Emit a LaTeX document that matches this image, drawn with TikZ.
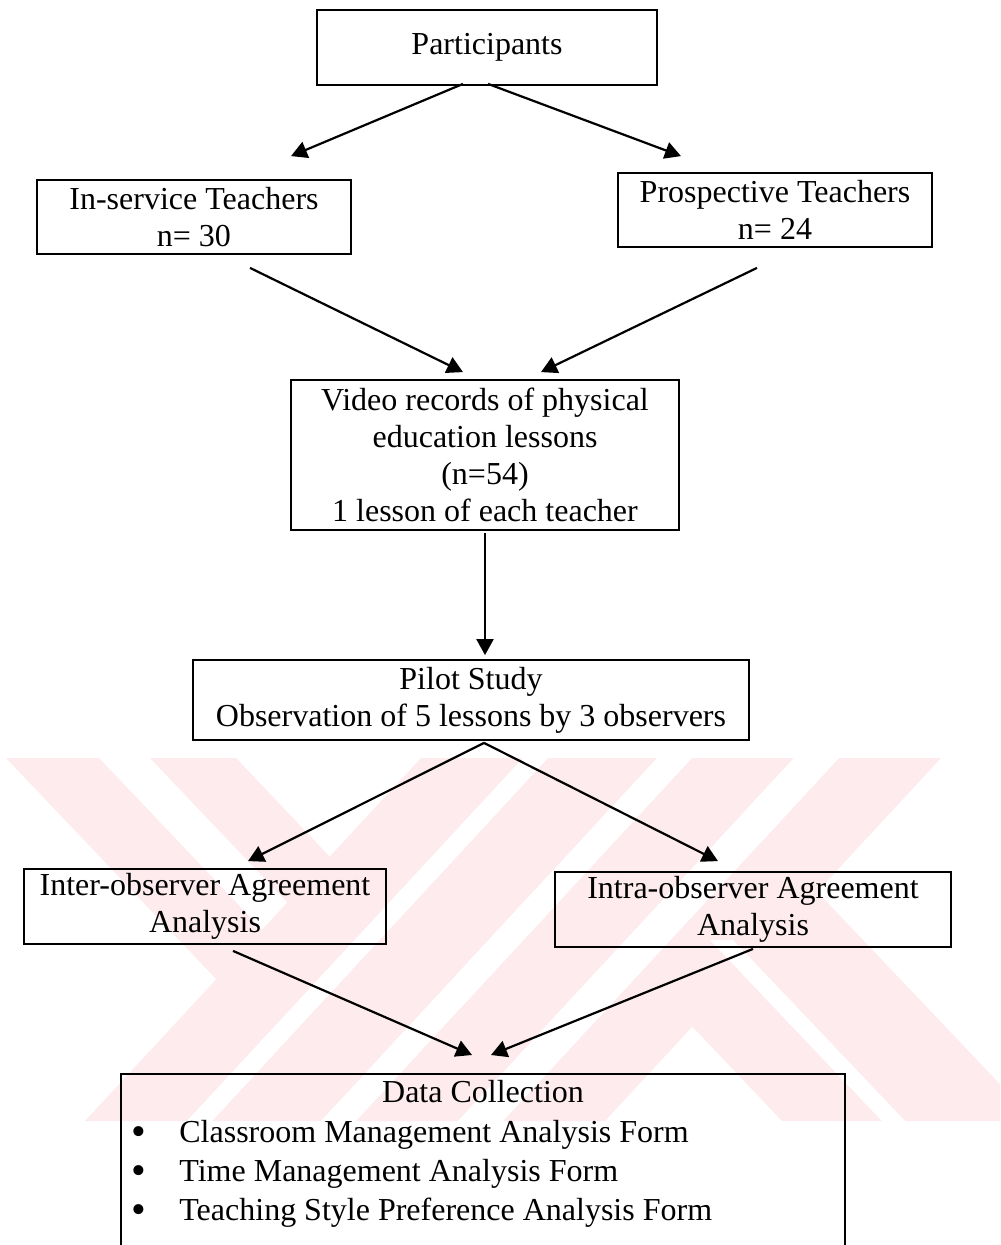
\documentclass[tikz,border=0pt]{standalone}
\usepackage{fontspec}
\setmainfont{Liberation Serif}
\usetikzlibrary{arrows.meta,calc}
\definecolor{wm}{RGB}{253,235,238}
\newcommand{\bigbul}{\makebox[24pt][l]{\raisebox{-1.6pt}{\fontsize{21}{21}\selectfont\textbullet}}}
\begin{document}
\begin{tikzpicture}[x=0.5pt,y=-0.5pt,
  box/.style={draw, line width=0.9pt, align=center, inner sep=0pt, font=\fontsize{16}{18.5}\selectfont},
  arr/.style={line width=1.1pt, -{Triangle[length=8pt,width=8.5pt]}},
  txt/.style={font=\fontsize{16}{19.5}\selectfont, inner sep=0pt}]
\useasboundingbox (0,0) rectangle (1000,1245);
% watermark
\begin{scope}
\clip (0,758) rectangle (1000,1121);
\fill[wm] (6,758) -- (99,758) -- (444,1121) -- (351,1121) -- cycle;
\fill[wm] (150,758) -- (236,758) -- (581,1121) -- (495,1121) -- cycle;
\fill[wm] (437,758) -- (537,758) -- (882,1121) -- (782,1121) -- cycle;
\fill[wm] (560,758) -- (690,758) -- (1035,1121) -- (905,1121) -- cycle;
\fill[wm] (421,758) -- (523,758) -- (187,1121) -- (85,1121) -- cycle;
\fill[wm] (548,758) -- (657,758) -- (321,1121) -- (212,1121) -- cycle;
\fill[wm] (692,758) -- (794,758) -- (458,1121) -- (356,1121) -- cycle;
\fill[wm] (839,758) -- (941,758) -- (605,1121) -- (503,1121) -- cycle;
\fill[white] (523,758) -- (548,758) -- (212,1121) -- (187,1121) -- cycle;
\fill[white] (657,758) -- (692,758) -- (356,1121) -- (321,1121) -- cycle;
\fill[white] (794,758) -- (839,758) -- (503,1121) -- (458,1121) -- cycle;
\fill[white] (710,940) -- (733,940) -- (905,1121) -- (882,1121) -- cycle;
\end{scope}
% boxes
\node[box, minimum width=170pt, minimum height=37.5pt] (part) at (487,47.5) {Participants};
\node[box, minimum width=157pt, minimum height=37pt] (ins) at (194,217) {In-service Teachers\\n= 30};
\node[box, minimum width=157pt, minimum height=37pt] (pro) at (775,210) {Prospective Teachers\\n= 24};
\node[box, minimum width=194pt, minimum height=75pt] (vid) at (485,455) {Video records of physical\\education lessons\\(n=54)\\1 lesson of each teacher};
\node[box, minimum width=278pt, minimum height=40pt] (pil) at (471,700) {Pilot Study\\Observation of 5 lessons by 3 observers};
\node[box, minimum width=181pt, minimum height=37.5pt] (inter) at (205,906.5) {Inter-observer Agreement\\Analysis};
\node[box, minimum width=198pt, minimum height=37.5pt] (intra) at (753,909.5) {Intra-observer Agreement\\Analysis};
\node[draw, line width=0.9pt, minimum width=362pt, minimum height=110pt, anchor=north, inner sep=0pt] (data) at (483,1073) {};
\node[txt] (dtitle) at (483,1092) {Data Collection};
\node[txt, anchor=base west] (b1) at (131,1142) {\bigbul Classroom Management Analysis Form};
\node[txt, anchor=base west] (b2) at (131,1181) {\bigbul Time Management Analysis Form};
\node[txt, anchor=base west] (b3) at (131,1220) {\bigbul Teaching Style Preference Analysis Form};
% connectors
\draw[arr] ($(part.south)+(-24,-2)$) -- ($(ins.north)+(97,-23)$);
\draw[arr] ($(part.south)+(1,-2)$) -- ($(pro.north)+(-94,-16)$);
\draw[arr] ($(ins.south)+(56,13)$) -- ($(vid.north)+(-22,-7)$);
\draw[arr] ($(pro.south)+(-18,20)$) -- ($(vid.north)+(56,-7)$);
\draw[arr] ($(vid.south)+(0,2)$) -- ($(pil.north)+(14,-4)$);
\draw[arr] ($(pil.south)+(13,2)$) -- ($(inter.north)+(43,-7)$);
\draw[arr] ($(pil.south)+(13,2)$) -- ($(intra.north)+(-35,-10)$);
\draw[arr] ($(inter.south)+(28,6)$) -- ($(data.north)+(-11,-18)$);
\draw[arr] ($(intra.south)+(0,1)$) -- ($(data.north)+(8,-18)$);
\end{tikzpicture}
\end{document}
